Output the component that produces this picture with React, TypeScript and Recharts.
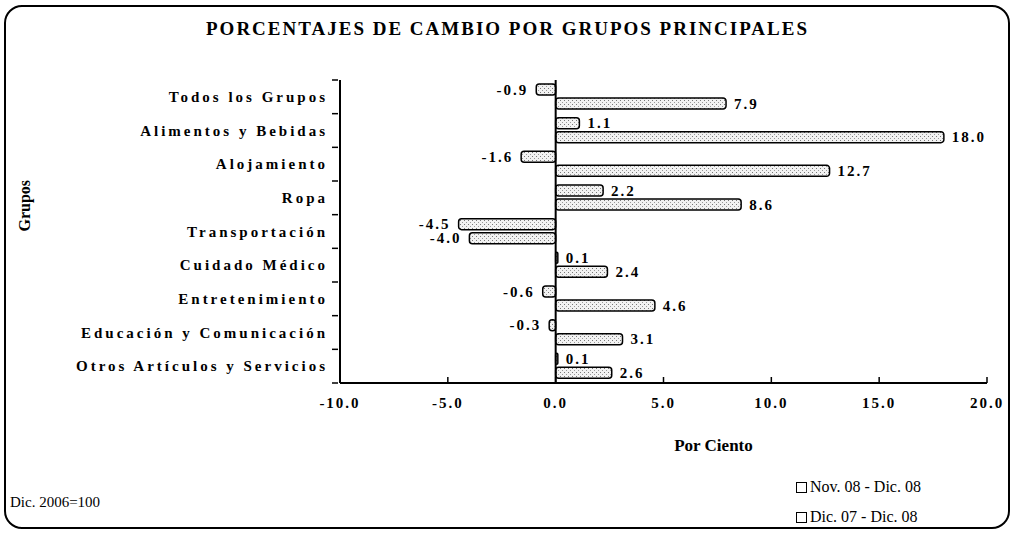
import React from "react";
import {
  BarChart,
  Bar,
  XAxis,
  YAxis,
  ReferenceLine,
  LabelList,
} from "recharts";

const grupos = [
  "Todos los Grupos",
  "Alimentos y Bebidas",
  "Alojamiento",
  "Ropa",
  "Transportación",
  "Cuidado Médico",
  "Entretenimiento",
  "Educación y Comunicación",
  "Otros Artículos y Servicios",
];
const novDic = [-0.9, 1.1, -1.6, 2.2, -4.5, 0.1, -0.6, -0.3, 0.1];
const dicDic = [7.9, 18.0, 12.7, 8.6, -4.0, 2.4, 4.6, 3.1, 2.6];
const xTicks = [-10, -5, 0, 5, 10, 15, 20];
const series = ["Nov. 08 - Dic. 08", "Dic. 07 - Dic. 08"];

const data = grupos.map((name, i) => ({
  name,
  nov: novDic[i],
  dic: dicDic[i],
}));

const serif = "'Liberation Serif', 'DejaVu Serif', serif";

// plot area height / categories, used for the boundary tick marks
const BAND = 303 / grupos.length;

function CategoryTick(props: any) {
  const { x, y, payload, index } = props;
  return (
    <g>
      <line x1={x} x2={x + 6} y1={y - BAND / 2} y2={y - BAND / 2} stroke="#000" strokeWidth={1.5} />
      {index === grupos.length - 1 && (
        <line x1={x} x2={x + 6} y1={y + BAND / 2} y2={y + BAND / 2} stroke="#000" strokeWidth={1.5} />
      )}
      <text
        x={x - 4}
        y={y}
        dy={5}
        textAnchor="end"
        fontFamily={serif}
        fontWeight="bold"
        fontSize={15}
        letterSpacing={3}
        fill="#000"
      >
        {payload.value}
      </text>
    </g>
  );
}

function ValueLabel(props: any) {
  const { x, y, width, height, value } = props;
  const neg = value < 0;
  const end = neg ? Math.min(x, x + width) : Math.max(x, x + width);
  return (
    <text
      x={neg ? end - 8 : end + 8}
      y={y + height / 2}
      dy={5}
      textAnchor={neg ? "end" : "start"}
      fontFamily={serif}
      fontWeight="bold"
      fontSize={15}
      letterSpacing={2}
      fill="#000"
    >
      {value.toFixed(1)}
    </text>
  );
}

export default function App() {
  return (
    <div
      style={{
        position: "absolute",
        left: 0,
        top: 0,
        width: 1015,
        height: 533,
        background: "#fff",
      }}
    >
      <div
        style={{
          position: "absolute",
          left: 4,
          top: 5,
          width: 1002,
          height: 520,
          border: "2px solid #000",
          borderRadius: 18,
        }}
      />
      <div
        style={{
          position: "absolute",
          top: 18,
          width: 1015,
          textAlign: "center",
          fontFamily: serif,
          fontWeight: "bold",
          fontSize: 19,
          letterSpacing: 2,
        }}
      >
        PORCENTAJES DE CAMBIO POR GRUPOS PRINCIPALES
      </div>
      <div
        style={{
          position: "absolute",
          left: 10,
          top: 494,
          fontFamily: serif,
          fontSize: 15,
        }}
      >
        Dic. 2006=100
      </div>
      <div
        style={{
          position: "absolute",
          left: 796,
          top: 472,
          fontFamily: serif,
          fontSize: 16,
          color: "#000",
        }}
      >
        {series.map((s) => (
          <div key={s} style={{ display: "flex", alignItems: "center", height: 30 }}>
            <span
              style={{
                display: "inline-block",
                width: 9,
                height: 9,
                border: "1px solid #000",
                marginRight: 3,
              }}
            />
            <span>{s}</span>
          </div>
        ))}
      </div>
      <BarChart
        width={1015}
        height={533}
        data={data}
        layout="vertical"
        margin={{ top: 80, right: 28, bottom: 110, left: 0 }}
        barSize={11}
        barGap={3}
        style={{ position: "absolute", left: 0, top: 0 }}
      >
        <defs>
          <pattern id="stipple" width="4" height="4" patternUnits="userSpaceOnUse">
            <rect width="4" height="4" fill="#f2f2f2" />
            <rect x="0" y="0" width="1" height="1" fill="#777" />
            <rect x="2" y="2" width="1" height="1" fill="#999" />
          </pattern>
        </defs>
        <XAxis
          type="number"
          domain={[-10, 20]}
          ticks={xTicks}
          height={40}
          axisLine={{ stroke: "#000", strokeWidth: 2 }}
          tickLine={{ stroke: "#000", strokeWidth: 1.5 }}
          tickSize={-6}
          tickMargin={20}
          tickFormatter={(v: number) => v.toFixed(1)}
          tick={{ fontFamily: serif, fontWeight: "bold", fontSize: 15, fill: "#000", letterSpacing: 2 }}
          label={{
            value: "Por Ciento",
            position: "insideBottom",
            offset: -28,
            dx: 50,
            fontFamily: serif,
            fontWeight: "bold",
            fontSize: 17,
            fill: "#000",
          }}
        />
        <YAxis
          type="category"
          dataKey="name"
          width={340}
          axisLine={{ stroke: "#000", strokeWidth: 2 }}
          tickLine={false}
          tick={<CategoryTick />}
          label={{
            value: "Grupos",
            angle: -90,
            position: "insideLeft",
            offset: 24,
            fontFamily: serif,
            fontWeight: "bold",
            fontSize: 16,
            fill: "#000",
          }}
        />
        <ReferenceLine x={0} stroke="#000" strokeWidth={2} />
        <Bar
          dataKey="nov"
          name={series[0]}
          fill="url(#stipple)"
          stroke="#000"
          strokeWidth={1.5}
          radius={3}
          isAnimationActive={false}
        >
          <LabelList dataKey="nov" content={<ValueLabel />} />
        </Bar>
        <Bar
          dataKey="dic"
          name={series[1]}
          fill="url(#stipple)"
          stroke="#000"
          strokeWidth={1.5}
          radius={3}
          isAnimationActive={false}
        >
          <LabelList dataKey="dic" content={<ValueLabel />} />
        </Bar>
      </BarChart>
    </div>
  );
}
